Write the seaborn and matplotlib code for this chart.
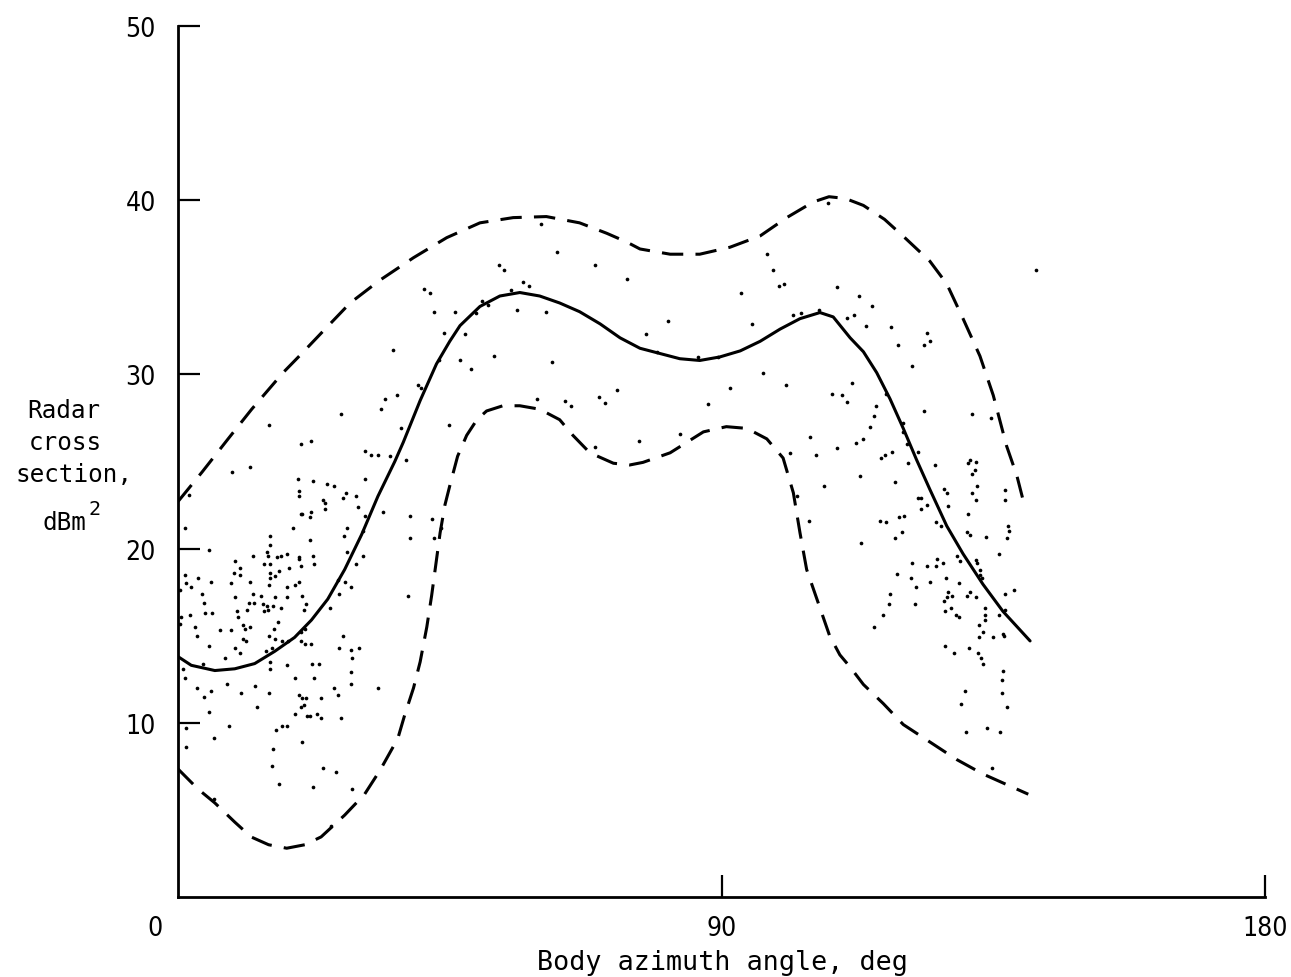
import matplotlib
matplotlib.use("Agg")
import matplotlib.pyplot as plt
import seaborn as sns
import numpy as np
import pandas as pd

# ---------------- data ----------------
mean_x = [0, 2.2, 6.1, 9.4, 12.7, 16.0, 19.3, 22.1, 24.8, 27.6, 30.4, 33.1, 35.9, 37.3,
          40.1, 42.8, 45.0, 46.7, 50.0, 53.3, 56.6, 59.9, 63.2, 66.5, 69.9, 73.2, 76.5,
          79.8, 83.1, 86.4, 89.7, 93.1, 96.4, 99.7, 103.0, 106.3, 108.5, 111.3, 113.5,
          115.7, 117.9, 120.1, 122.3, 124.5, 127.3, 130.0, 133.3, 136.6, 141.1]
mean_y = [13.8, 13.3, 13.0, 13.1, 13.4, 14.1, 14.9, 15.9, 17.1, 18.8, 20.8, 23.0, 25.0, 26.1,
          28.5, 30.6, 31.9, 32.8, 33.9, 34.5, 34.7, 34.5, 34.1, 33.6, 32.9, 32.1, 31.5,
          31.2, 30.9, 30.8, 31.0, 31.35, 31.9, 32.6, 33.2, 33.55, 33.3, 32.1, 31.3,
          30.1, 28.6, 26.9, 25.1, 23.4, 21.3, 19.7, 17.95, 16.4, 14.7]

upper_x = [0, 4.0, 8.3, 12.2, 17.4, 20.5, 23.8, 28.5, 33.4, 39.0, 44.5, 50.0, 55.5, 61.0,
           66.5, 71.0, 74.3, 76.5, 81.5, 86.4, 91.4, 96.4, 100.8, 105.2, 107.8, 110.5,
           113.5, 117.0, 120.5, 124.5, 127.3, 130.0, 132.8, 135.0, 137.2, 138.9, 140.3]
upper_y = [22.7, 24.4, 26.3, 28.0, 30.1, 31.2, 32.4, 34.1, 35.4, 36.7, 37.85, 38.7, 39.0, 39.06,
           38.7, 38.1, 37.6, 37.2, 36.9, 36.9, 37.3, 37.95, 39.0, 39.9, 40.2, 40.1,
           39.7, 38.9, 37.8, 36.5, 35.2, 33.2, 31.05, 28.8, 25.9, 24.2, 22.3]

lower_x = [0, 3.3, 6.1, 9.4, 12.1, 15.0, 18.0, 21.0, 23.7, 27.6, 30.9, 33.5, 36.4, 37.5,
           39.0, 40.1, 41.2, 42.0, 43.4, 44.2, 45.0, 46.3, 47.8, 49.5, 51.1, 53.8, 56.6,
           59.9, 63.2, 65.4, 68.2, 72.1, 74.8, 77.0, 81.5, 87.0, 90.8, 94.2, 97.5, 100.2,
           101.9, 103.0, 104.1, 105.7, 107.9, 109.6, 111.3, 113.5, 116.8, 120.1, 124.5,
           128.9, 133.3, 140.8]
lower_y = [7.35, 6.2, 5.4, 4.3, 3.45, 3.0, 2.8, 3.0, 3.45, 4.7, 5.9, 7.3, 9.1, 10.4,
           12.0, 13.5, 15.5, 17.3, 20.9, 22.5, 23.6, 25.3, 26.5, 27.4, 27.9, 28.2, 28.2,
           28.0, 27.4, 26.5, 25.5, 24.9, 24.8, 24.95, 25.5, 26.7, 27.0, 26.9, 26.3, 25.2,
           23.2, 20.9, 18.8, 17.2, 15.0, 13.9, 13.2, 12.2, 11.1, 9.9, 8.9,
           7.9, 7.06, 5.9]

dots = [
    (20.4,26.0),(22.0,26.2),(31.0,25.6),(31.9,25.4),(33.2,25.4),(35.1,25.3),(12.0,24.7),(8.9,24.4),
    (19.8,24.0),(22.4,23.9),(24.7,23.7),(25.8,23.6),(30.9,24.0),(1.8,23.1),(20.0,23.3),(20.0,23.0),
    (24.0,22.8),(24.4,22.6),(24.4,22.3),(27.3,22.9),(27.8,23.2),(29.4,23.0),(29.8,22.4),(20.3,22.0),
    (20.5,22.0),(21.9,21.8),(22.1,22.1),(30.9,21.9),(1.1,21.2),(19.0,21.2),(28.0,21.2),(27.5,20.7),
    (30.6,21.0),(15.2,20.7),(21.8,20.5),(15.2,20.2),(14.8,19.8),(12.5,19.6),(14.9,19.6),(16.4,19.5),
    (17.0,19.6),(18.0,19.7),(20.0,19.5),(20.1,19.4),(22.3,19.6),(22.6,19.1),(5.2,19.9),(9.4,19.3),
    (10.3,18.9),(9.2,18.6),(10.3,18.5),(14.3,19.1),(15.3,19.1),(18.4,18.9),(20.4,19.0),(28.0,19.8),
    (29.5,19.1),(30.7,19.6),(1.2,18.5),(1.4,18.0),(2.2,17.8),(3.3,18.3),(5.4,18.1),(8.7,18.0),
    (11.9,18.1),(15.2,18.6),(15.2,18.3),(16.0,18.4),(16.7,18.7),(15.0,17.9),(18.0,17.8),(19.3,17.9),
    (20.1,18.1),(0.3,17.6),(3.9,17.4),(4.3,16.9),(9.5,17.2),(12.4,17.4),(12.6,16.9),(13.7,17.3),
    (16.1,17.2),(18.1,17.2),(20.5,17.3),(21.2,16.8),(26.5,18.2),(27.6,18.1),(28.6,17.8),(26.6,17.4),
    (11.8,16.9),(14.1,16.8),(14.8,16.7),(15.8,16.7),(17.1,16.6),(9.8,16.4),(9.9,16.1),(11.5,16.5),
    (14.2,16.4),(14.9,16.5),(20.8,16.5),(25.2,16.6),(4.4,16.3),(5.7,16.3),(2.0,16.2),(0.5,16.1),
    (0.4,15.7),(16.6,15.8),(2.8,15.5),(3.1,15.0),(6.9,15.3),(8.7,15.3),(10.8,15.6),(11.1,15.4),
    (12.0,15.5),(15.9,15.4),(15.1,15.0),(16.1,14.8),(17.3,14.7),(18.2,14.7),(20.4,15.2),(21.0,15.4),
    (20.4,14.7),(21.0,14.5),(22.1,14.5),(27.3,15.0),(26.7,14.3),(28.6,14.2),(29.9,14.3),(28.8,13.7),
    (5.1,14.4),(10.7,14.8),(11.3,14.7),(9.5,14.3),(10.3,14.0),(7.8,13.7),(14.5,14.1),(15.6,14.3),
    (4.1,13.4),(0.8,13.1),(1.1,12.6),(15.3,13.5),(15.3,13.1),(18.0,13.3),(22.2,13.4),(23.4,13.4),
    (28.7,12.9),(19.3,12.6),(22.5,12.6),(28.7,12.2),(8.1,12.2),(12.7,12.1),(3.1,12.0),(5.4,11.8),
    (10.4,11.7),(15.1,11.7),(4.3,11.5),(13.0,10.9),(20.0,11.6),(20.6,11.4),(21.2,11.4),(20.9,11.0),
    (20.3,10.9),(23.7,11.4),(25.8,12.0),(26.5,11.6),(33.1,12.0),(5.2,10.6),(19.4,10.5),(21.4,10.4),
    (21.9,10.4),(23.0,10.5),(23.7,10.3),(27.0,10.3),(1.4,9.7),(8.5,9.8),(5.9,9.1),(16.3,9.6),
    (17.2,9.8),(18.1,9.8),(20.6,8.9),(1.4,8.6),(15.8,8.5),(15.6,7.5),(24.0,7.4),(26.2,7.2),
    (16.7,6.5),(22.3,6.3),(28.8,6.2),(6.0,5.6),(25.4,4.1),
    (35.6,31.4),(39.8,29.4),(40.3,29.2),(34.3,28.6),(36.2,28.8),(33.6,28.0),(27.0,27.7),(15.0,27.1),
    (37.0,26.9),(44.9,27.1),(37.7,25.1),(38.5,21.9),(42.1,21.7),(43.5,21.2),(34.0,22.1),
    (60.1,38.65),(62.8,37.05),(69.0,36.3),(74.3,35.5),(53.1,36.3),(54.0,36.0),(57.2,35.3),(58.1,35.1),
    (40.8,34.9),(41.7,34.7),(55.1,34.85),(50.3,34.2),(51.3,34.0),(42.4,33.6),(45.8,33.6),(49.4,33.55),
    (56.2,33.7),(60.9,33.6),(44.0,32.35),(47.6,32.3),(43.3,30.85),(46.7,30.8),(52.3,31.05),(62.0,30.7),
    (48.6,30.3),(59.5,28.6),(64.1,28.5),(65.0,28.2),(69.7,28.7),(70.7,28.35),(72.7,29.1),(69.1,25.85),
    (38.4,20.6),(42.4,20.6),(38.1,17.3),
    (107.6,39.86),(97.6,36.9),(98.6,36.0),(99.6,35.1),(100.4,35.2),(93.2,34.7),(109.2,35.0),(112.8,34.5),
    (101.9,33.4),(103.2,33.5),(106.2,33.7),(110.8,33.25),(111.9,33.4),(113.9,32.8),(81.2,33.05),(95.1,32.9),
    (77.5,32.3),(79.4,31.3),(86.1,31.0),(89.5,31.0),(96.8,30.1),(91.4,29.2),(100.6,29.4),(111.6,29.5),
    (108.3,28.9),(110.0,28.8),(110.7,28.4),(87.8,28.3),(76.4,26.2),(83.1,26.55),(104.7,26.4),(109.1,25.75),
    (112.3,26.05),(113.5,26.3),(114.6,27.0),(101.3,25.5),(105.7,25.4),(112.9,24.15),(107.0,23.6),(102.5,23.0),
    (104.5,21.6),(113.1,20.3),
    (142.0,36.0),(114.9,33.9),(118.1,32.7),(124.1,32.4),(124.6,31.9),(123.6,31.7),(119.2,31.7),(121.5,30.5),
    (117.3,28.85),(123.5,27.9),(131.4,27.7),(134.7,27.5),(115.6,28.2),(115.2,27.6),(120.0,27.2),(120.0,26.7),
    (120.8,26.0),(118.3,25.55),(117.1,25.4),(116.4,25.2),(122.6,25.55),(120.9,24.9),(125.3,24.8),(118.8,23.8),
    (130.8,24.9),(131.1,25.1),(132.1,25.0),(131.4,24.3),(132.0,24.5),(132.3,23.6),(131.4,23.2),(132.1,22.8),
    (137.0,23.35),(137.0,22.8),(126.8,23.4),(127.3,23.2),(122.6,22.9),(123.0,22.9),(124.1,22.5),(123.0,22.3),
    (127.5,22.45),(130.8,22.0),(119.4,21.8),(120.3,21.85),(116.2,21.6),(117.3,21.5),(125.5,21.5),(126.3,21.3),
    (137.4,21.3),(137.6,21.0),(130.6,20.95),(131.2,20.8),(133.8,20.65),(137.2,20.6),(119.9,20.95),(118.7,20.6),
    (136.0,19.7),(121.5,19.2),(124.0,19.0),(125.6,19.0),(125.7,19.4),(126.6,19.2),(129.0,19.6),(129.5,19.3),
    (132.2,19.35),(132.3,19.2),(132.8,18.76),(132.8,18.5),(133.2,18.3),(119.1,18.55),(121.4,18.3),(122.2,17.8),
    (124.6,18.1),(127.2,18.3),(129.4,18.0),(127.5,17.5),(127.3,17.2),(128.1,17.3),(126.9,17.0),(131.2,17.5),
    (130.7,17.3),(132.2,17.2),(136.9,17.4),(138.5,17.65),(117.9,17.4),(117.8,16.8),(122.0,16.8),(128.0,16.6),
    (116.8,16.2),(127.0,16.4),(128.9,16.2),(129.4,16.1),(133.6,16.6),(133.6,16.2),(136.0,16.2),(137.0,16.5),
    (133.7,15.9),(115.2,15.5),(132.6,15.6),(133.3,15.2),(132.7,14.9),(134.9,14.9),(136.6,15.1),(136.8,15.0),
    (127.0,14.4),(128.5,14.0),(131.0,14.3),(132.4,14.0),(133.0,13.7),(133.3,13.4),(136.6,13.0),(136.4,12.45),
    (136.5,11.7),(137.3,10.9),(130.4,11.8),(129.7,11.1),(130.5,9.5),(134.0,9.7),(136.2,9.5),(134.8,7.4),
]
dot_x = [p[0] for p in dots]
dot_y = [p[1] for p in dots]

x_ticks = [90, 180]
x_ticklabels = ["90", "180"]
y_ticks = [10, 20, 30, 40, 50]
y_ticklabels = ["10", "20", "30", "40", "50"]

# ---------------- figure ----------------
sns.set_style("white")
plt.rcParams['font.family'] = ['DejaVu Sans']
plt.rcParams['text.color'] = 'black'
plt.rcParams['xtick.color'] = 'black'
plt.rcParams['ytick.color'] = 'black'

W, H = 1291, 978
fig = plt.figure(figsize=(W / 100, H / 100), dpi=100)
ax = fig.add_axes([178 / W, 80 / H, 1087 / W, 871 / H])

sns.scatterplot(x=dot_x, y=dot_y, s=7, color="black", linewidth=0, ax=ax, zorder=3)
sns.lineplot(x=mean_x, y=mean_y, color="black", lw=2.2, ax=ax, sort=False, estimator=None)
sns.lineplot(x=upper_x, y=upper_y, color="black", lw=2.2, ax=ax, sort=False,
             estimator=None, linestyle=(0, (7, 4)))
sns.lineplot(x=lower_x, y=lower_y, color="black", lw=2.2, ax=ax, sort=False,
             estimator=None, linestyle=(0, (7, 4)))

ax.set_xlim(0, 180)
ax.set_ylim(0, 50)
for s in ["top", "right"]:
    ax.spines[s].set_visible(False)
for s in ["left", "bottom"]:
    ax.spines[s].set_linewidth(2.0)
    ax.spines[s].set_color("black")

tick_font = dict(family="DejaVu Sans", stretch="condensed", size=19)
ax.set_xticks(x_ticks)
ax.set_xticklabels(x_ticklabels, fontdict=tick_font)
ax.set_yticks(y_ticks)
ax.set_yticklabels(y_ticklabels, fontdict=tick_font)
ax.tick_params(axis="both", direction="in", length=16, width=1.6, color="black",
               labelcolor="black", bottom=True, left=True, top=False, right=False)
ax.tick_params(axis="y", pad=16)
ax.tick_params(axis="x", pad=13)
ax.annotate("0", xy=(0, 0), xycoords="data", xytext=(-16.5, -13), textcoords="offset points",
            ha="center", va="top", color="black",
            **{"fontfamily": "DejaVu Sans", "fontstretch": "condensed", "fontsize": 19})
ax.set_xlabel("")
ax.set_ylabel("")

mono = "DejaVu Sans Mono"
fig.text(722 / W, 1 - 970 / H, "Body azimuth angle, deg", ha="center", va="baseline",
         family=mono, fontsize=19.3, color="black")
fig.text(64 / W, 1 - 418 / H, "Radar", ha="center", va="baseline", family=mono, fontsize=17.5, color="black")
fig.text(65 / W, 1 - 450 / H, "cross", ha="center", va="baseline", family=mono, fontsize=17.5, color="black")
fig.text(74 / W, 1 - 482 / H, "section,", ha="center", va="baseline", family=mono, fontsize=17.5, color="black")
fig.text(43 / W, 1 - 530 / H, "dBm", ha="left", va="baseline", family=mono, fontsize=17.5, color="black")
fig.text(88 / W, 1 - 515 / H, "2", ha="left", va="baseline", family=mono, fontsize=14.5, color="black")

fig.savefig("out.png", dpi=100, facecolor="white")
